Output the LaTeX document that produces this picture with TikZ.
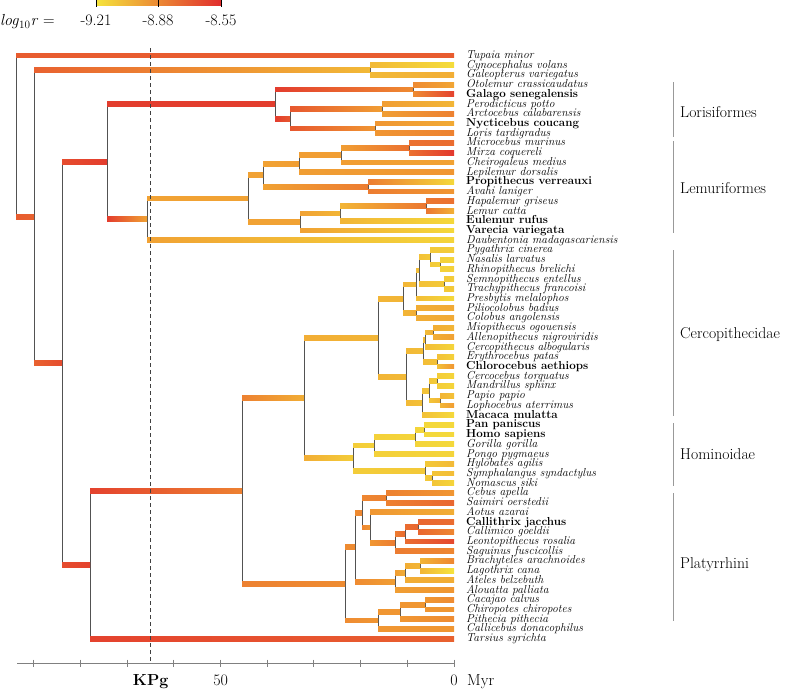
\documentclass[tikz,border=0pt]{standalone}
\usetikzlibrary{calc}
\definecolor{cY}{RGB}{245,228,60}
\definecolor{cO}{RGB}{240,150,50}
\definecolor{cR}{RGB}{225,45,45}
\newcommand{\tipn}[4]{%
  \coordinate (#1) at (454,{55.5+(#2-1)*9.72});
  \node[tiplab] (l#1) at (466,{58.5+(#2-1)*9.72}) {#4};
  \colorlet{col-#1}{#3}}
\newcommand{\brr}[2]{%
  \coordinate (bs) at (#1 |- #2);
  \shade[left color=col-#1,right color=col-#2] ([yshift=2.4pt]bs) rectangle ([yshift=-2.4pt]#2);}
\newcommand{\inode}[5]{%
  \coordinate (tmp) at ($(#3)!0.5!(#4)$);
  \path let \p1=(tmp) in coordinate (#1) at (#2pt,\y1);
  \colorlet{col-#1}{#5}%
  \draw[vline] (#1 |- #3) -- (#1 |- #4);
  \brr{#1}{#3}\brr{#1}{#4}}
\begin{document}
\begin{tikzpicture}[x=1pt,y=-1pt,
 vline/.style={draw=black!68,line width=0.9pt},
 tiplab/.style={anchor=base west,inner sep=0pt,font=\fontsize{11.6}{12}\selectfont\itshape},
 cladebar/.style={draw=black!40,line width=1pt},
 cladelab/.style={anchor=base west,inner sep=0pt,font=\fontsize{15.7}{17}\selectfont},
 axisline/.style={draw=black!50,line width=1pt},
 axlab/.style={anchor=base,inner sep=0pt,font=\fontsize{16}{18}\selectfont},
 kpg/.style={draw=black!75,line width=0.8pt,dash pattern=on 4pt off 3pt}]
\useasboundingbox (0,0) rectangle (798,689);
% tips
\tipn{t1}{1}{cR!55!cO}{Tupaia minor}
\tipn{t2}{2}{cY!90!cO}{Cynocephalus volans}
\tipn{t3}{3}{cO!70!cY}{Galeopterus variegatus}
\tipn{t4}{4}{cO!80!cY}{Otolemur crassicaudatus}
\tipn{t5}{5}{cR!80!cO}{\upshape\bfseries Galago senegalensis}
\tipn{t6}{6}{cO!60!cY}{Perodicticus potto}
\tipn{t7}{7}{cR!20!cO}{Arctocebus calabarensis}
\tipn{t8}{8}{cO!75!cY}{\upshape\bfseries Nycticebus coucang}
\tipn{t9}{9}{cR!20!cO}{Loris tardigradus}
\tipn{t10}{10}{cR!40!cO}{Microcebus murinus}
\tipn{t11}{11}{cR!90!cO}{Mirza coquereli}
\tipn{t12}{12}{cO!85!cY}{Cheirogaleus medius}
\tipn{t13}{13}{cO}{Lepilemur dorsalis}
\tipn{t14}{14}{cO!15!cY}{\upshape\bfseries Propithecus verreauxi}
\tipn{t15}{15}{cO}{Avahi laniger}
\tipn{t16}{16}{cR!35!cO}{Hapalemur griseus}
\tipn{t17}{17}{cO!65!cY}{Lemur catta}
\tipn{t18}{18}{cO!15!cY}{\upshape\bfseries Eulemur rufus}
\tipn{t19}{19}{cO!15!cY}{\upshape\bfseries Varecia variegata}
\tipn{t20}{20}{cO!20!cY}{Daubentonia madagascariensis}
\tipn{t21}{21}{cO!30!cY}{Pygathrix cinerea}
\tipn{t22}{22}{cO!20!cY}{Nasalis larvatus}
\tipn{t23}{23}{cO!25!cY}{Rhinopithecus brelichi}
\tipn{t24}{24}{cO!30!cY}{Semnopithecus entellus}
\tipn{t25}{25}{cO!35!cY}{Trachypithecus francoisi}
\tipn{t26}{26}{cO!15!cY}{Presbytis melalophos}
\tipn{t27}{27}{cO!75!cY}{Piliocolobus badius}
\tipn{t28}{28}{cO!75!cY}{Colobus angolensis}
\tipn{t29}{29}{cO!60!cY}{Miopithecus ogouensis}
\tipn{t30}{30}{cO!85!cY}{Allenopithecus nigroviridis}
\tipn{t31}{31}{cO!20!cY}{Cercopithecus albogularis}
\tipn{t32}{32}{cO!25!cY}{Erythrocebus patas}
\tipn{t33}{33}{cO}{\upshape\bfseries Chlorocebus aethiops}
\tipn{t34}{34}{cO!20!cY}{Cercocebus torquatus}
\tipn{t35}{35}{cO!20!cY}{Mandrillus sphinx}
\tipn{t36}{36}{cO!45!cY}{Papio papio}
\tipn{t37}{37}{cO!90!cY}{Lophocebus aterrimus}
\tipn{t38}{38}{cO!15!cY}{\upshape\bfseries Macaca mulatta}
\tipn{t39}{39}{cO!15!cY}{\upshape\bfseries Pan paniscus}
\tipn{t40}{40}{cO!15!cY}{\upshape\bfseries Homo sapiens}
\tipn{t41}{41}{cO!15!cY}{Gorilla gorilla}
\tipn{t42}{42}{cO!20!cY}{Pongo pygmaeus}
\tipn{t43}{43}{cO!55!cY}{Hylobates agilis}
\tipn{t44}{44}{cO!50!cY}{Symphalangus syndactylus}
\tipn{t45}{45}{cO!20!cY}{Nomascus siki}
\tipn{t46}{46}{cO}{Cebus apella}
\tipn{t47}{47}{cR!45!cO}{Saimiri oerstedii}
\tipn{t48}{48}{cO!70!cY}{Aotus azarai}
\tipn{t49}{49}{cR!40!cO}{\upshape\bfseries Callithrix jacchus}
\tipn{t50}{50}{cR!15!cO}{Callimico goeldii}
\tipn{t51}{51}{cR!75!cO}{Leontopithecus rosalia}
\tipn{t52}{52}{cR!15!cO}{Saguinus fuscicollis}
\tipn{t53}{53}{cR!15!cO}{Brachyteles arachnoides}
\tipn{t54}{54}{cY}{Lagothrix cana}
\tipn{t55}{55}{cO!70!cY}{Ateles belzebuth}
\tipn{t56}{56}{cO}{Alouatta palliata}
\tipn{t57}{57}{cR!10!cO}{Cacajao calvus}
\tipn{t58}{58}{cO}{Chiropotes chiropotes}
\tipn{t59}{59}{cR!10!cO}{Pithecia pithecia}
\tipn{t60}{60}{cO}{Callicebus donacophilus}
\tipn{t61}{61}{cR!50!cO}{Tarsius syrichta}
% internal nodes (bottom-up)
\inode{derm}{370}{t2}{t3}{cO!55!cY}
\inode{galag}{413}{t4}{t5}{cR!10!cO}
\inode{pa}{382}{t6}{t7}{cO!90!cY}
\inode{nl}{375}{t8}{t9}{cO}
\inode{lorisid}{290}{pa}{nl}{cR!60!cO}
\inode{lorisif}{275}{galag}{lorisid}{cR!85!cO}
\inode{mm}{409}{t10}{t11}{cR!35!cO}
\inode{cheir}{341}{mm}{t12}{cO!90!cY}
\inode{chl}{299}{cheir}{t13}{cO!90!cY}
\inode{indri}{368}{t14}{t15}{cR!25!cO}
\inode{chind}{263}{chl}{indri}{cO!85!cY}
\inode{hl}{426}{t16}{t17}{cR!30!cO}
\inode{el}{340}{hl}{t18}{cO!60!cY}
\inode{lemurid}{300}{el}{t19}{cO!85!cY}
\inode{lemuroid}{248}{chind}{lemurid}{cO!85!cY}
\inode{lemurif}{147}{lemuroid}{t20}{cO!85!cY}
\inode{strep}{107}{lorisif}{lemurif}{cR!85!cO}
\inode{nr}{440}{t22}{t23}{cO!25!cY}
\inode{odd}{430}{t21}{nr}{cO!35!cY}
\inode{st}{444}{t24}{t25}{cO!35!cY}
\inode{asn}{419}{odd}{st}{cO!45!cY}
\inode{asian}{416}{asn}{t26}{cO!50!cY}
\inode{afr}{416}{t27}{t28}{cO!70!cY}
\inode{colob}{403}{asian}{afr}{cO!60!cY}
\inode{ma}{433}{t29}{t30}{cO!70!cY}
\inode{mac}{425}{ma}{t31}{cO!50!cY}
\inode{ec}{437}{t32}{t33}{cO!45!cY}
\inode{cercini}{423}{mac}{ec}{cO!50!cY}
\inode{cm}{437}{t34}{t35}{cO!30!cY}
\inode{pl}{440}{t36}{t37}{cO!60!cY}
\inode{cmpl}{429}{cm}{pl}{cO!40!cY}
\inode{papio}{422}{cmpl}{t38}{cO!45!cY}
\inode{cercin}{406}{cercini}{papio}{cO!55!cY}
\inode{cerc}{378}{colob}{cercin}{cO!60!cY}
\inode{ph}{424}{t39}{t40}{cO!15!cY}
\inode{hpg}{415}{ph}{t41}{cO!20!cY}
\inode{hominid}{374}{hpg}{t42}{cO!25!cY}
\inode{sn}{432}{t44}{t45}{cO!40!cY}
\inode{hylob}{425}{t43}{sn}{cO!35!cY}
\inode{homin}{353}{hominid}{hylob}{cO!30!cY}
\inode{cat}{304}{cerc}{homin}{cO!70!cY}
\inode{cs}{386}{t46}{t47}{cR!20!cO}
\inode{cc}{418}{t49}{t50}{cR!45!cO}
\inode{ccl}{405}{cc}{t51}{cR!40!cO}
\inode{callitr}{395}{ccl}{t52}{cR!25!cO}
\inode{acall}{370}{t48}{callitr}{cO}
\inode{cebid}{362}{cs}{acall}{cR!15!cO}
\inode{bl}{420}{t53}{t54}{cO!60!cY}
\inode{bla}{405}{bl}{t55}{cO!70!cY}
\inode{atel}{395}{bla}{t56}{cO!90!cY}
\inode{ca}{355}{cebid}{atel}{cR!10!cO}
\inode{chc}{425}{t57}{t58}{cO}
\inode{ccp}{400}{chc}{t59}{cO}
\inode{pith}{378}{ccp}{t60}{cO}
\inode{platy}{345}{ca}{pith}{cR!10!cO}
\inode{anth}{242}{cat}{platy}{cR!20!cO}
\inode{haplo}{90}{anth}{t61}{cR!80!cO}
\inode{prim}{62}{strep}{haplo}{cR!70!cO}
\inode{eua}{34}{derm}{prim}{cR!50!cO}
\inode{root}{16}{t1}{eua}{cR!55!cO}
% KPg line
\coordinate (kpgtop) at (150.7,48);
\coordinate (kpgbot) at (150.7,662);
\draw[kpg] (kpgtop) -- (kpgbot);
% clade bars and labels
\draw[cladebar] (673,82) coordinate (c1a) -- (673,137) coordinate (c1b);
\node[cladelab] (lor) at (680,117) {Lorisiformes};
\draw[cladebar] (673,141) coordinate (c2a) -- (673,233) coordinate (c2b);
\node[cladelab] (lem) at (680,193) {Lemuriformes};
\draw[cladebar] (673,250) coordinate (c3a) -- (673,416) coordinate (c3b);
\node[cladelab] (cer) at (680,338) {Cercopithecidae};
\draw[cladebar] (673,423) coordinate (c4a) -- (673,486) coordinate (c4b);
\node[cladelab] (hom) at (680,459) {Hominoidae};
\draw[cladebar] (673,493) coordinate (c5a) -- (673,621) coordinate (c5b);
\node[cladelab] (pla) at (680,568) {Platyrrhini};
% time axis
\coordinate (ax0) at (17,663);
\coordinate (ax1) at (454,663);
\draw[axisline] (ax0) -- (ax1);
\foreach \k in {0,...,9} \draw[axisline] ({454-46.67*\k},659.5) -- ({454-46.67*\k},666.5);
\node[axlab,font=\fontsize{16}{18}\selectfont\bfseries] (kpglab) at (150.7,685) {KPg};
\node[axlab] (l50) at (220.7,685) {50};
\node[axlab] (l0) at (454,685) {0};
\node[axlab,anchor=base west] (lmyr) at (467,685) {Myr};
% legend
\shade[left color=cY,middle color=cO,right color=cR] (96,0) rectangle (221,5.6);
\foreach \xx/\nm in {96/a,158/b,221/c} \draw[black,line width=0.8pt] (\xx,0) coordinate (cb\nm) -- (\xx,6.5);
\node[axlab] (lg1) at (96,25.5) {-9.21};
\node[axlab] (lg2) at (158,25.5) {-8.88};
\node[axlab] (lg3) at (221,25.5) {-8.55};
\node[axlab,anchor=base west] (lgt) at (0,25.5) {\textit{log}\textsubscript{10}\textit{r} =};
\end{tikzpicture}
\end{document}
